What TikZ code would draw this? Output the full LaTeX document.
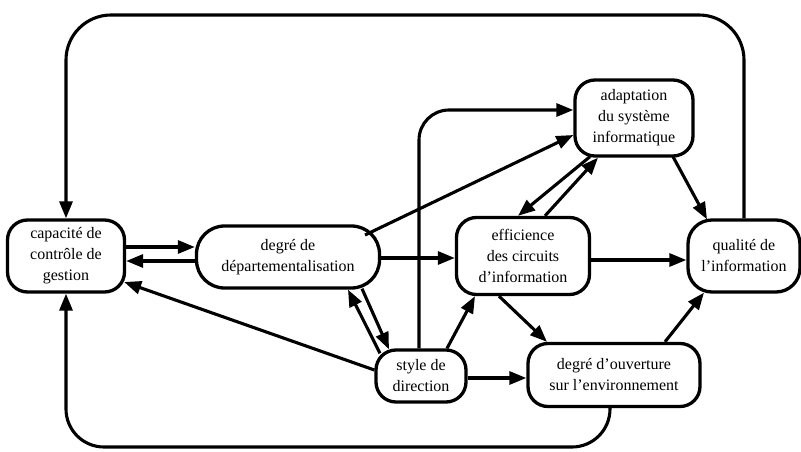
\documentclass[tikz,border=0pt]{standalone}
\usepackage{fontspec}
\setmainfont{Liberation Serif}
\usetikzlibrary{arrows.meta,calc}
\begin{document}
\begin{tikzpicture}[x=1pt,y=-1pt,
  box/.style={draw,line width=3.3pt,rounded corners=20pt,fill=white,align=center,
    font=\fontsize{16}{21}\selectfont,inner sep=0pt},
  arr/.style={line width=3.1pt,-{Triangle[length=17pt,width=13pt]}}]
\useasboundingbox (0,0) rectangle (801,452);

% variables
\node[box,minimum width=117pt,minimum height=72pt] (cap) at (66,256)
  {capacité de\\contrôle de\\gestion};
\node[box,minimum width=183pt,minimum height=62pt,rounded corners=28pt] (dep) at (288,257)
  {degré de\\départementalisation};
\node[box,minimum width=133pt,minimum height=77pt] (eff) at (523,256)
  {efficience\\des circuits\\d'information};
\node[box,minimum width=118pt,minimum height=76pt] (adapt) at (634,118)
  {adaptation\\du système\\informatique};
\node[box,minimum width=112pt,minimum height=72pt,rounded corners=24pt] (qual) at (744,256)
  {qualité de\\l'information};
\node[box,minimum width=90pt,minimum height=52pt] (style) at (421,376)
  {style de\\direction};
\node[box,minimum width=172pt,minimum height=63pt] (ouv) at (614,375)
  {degré d'ouverture\\sur l'environnement};

% long feedback loops
\coordinate (toprow) at (0,15);
\coordinate (botrow) at (0,447);
\draw[arr,rounded corners=45pt] (qual.north) -- (qual.north |- toprow)
  -- (cap.north |- toprow) -- (cap.north);
\draw[arr,rounded corners=38pt] ($(ouv.south)+(-4,0)$) -- ($(ouv.south |- botrow)+(-4,0)$)
  -- (cap.south |- botrow) -- (cap.south);

% capacité <-> départementalisation
\draw[arr] ($(cap.east)+(0,-9)$) -- ($(dep.west)+(0,-10)$);
\draw[arr] ($(dep.west)+(0,4)$) -- ($(cap.east)+(0,5)$);

% style de direction
\draw[arr] ($(style.west)+(0,-6)$) -- ($(cap.east)+(-2,26)$);
\draw[arr,rounded corners=30pt] ($(style.north)+(-2,0)$) |- ($(adapt.west)+(0,-8)$);
\draw[arr] ($(style.north)+(26,0)$) -- ($(eff.south)+(-48,0)$);
\draw[arr] ($(style.east)+(0,2)$) -- ($(ouv.west)+(0,3)$);
\draw[arr] ($(style.north)+(-41,5)$) -- ($(dep.south)+(60,0)$);
\draw[arr] ($(dep.south)+(74,-1)$) -- ($(style.north)+(-32,1)$);

% départementalisation
\draw[arr] ($(dep.center)+(77,-22)$) -- ($(adapt.west)+(0,17)$);
\draw[arr] ($(dep.east)+(0,1)$) -- ($(eff.west)+(0,2)$);

% efficience
\draw[arr] ($(eff.north)+(22,0)$) -- ($(adapt.south)+(-36,0)$);
\draw[arr] ($(adapt.south)+(-44,-1)$) -- ($(eff.north)+(-5,0)$);
\draw[arr] ($(eff.south)+(-24,0)$) -- ($(ouv.north)+(-67,0)$);
\draw[arr] ($(eff.east)+(0,4)$) -- ($(qual.west)+(0,4)$);

% vers la qualité
\draw[arr] ($(adapt.south)+(39,-1)$) -- ($(qual.north)+(-37,1)$);
\draw[arr] ($(ouv.north)+(51,0)$) -- ($(qual.south)+(-40,-1)$);
\end{tikzpicture}
\end{document}
